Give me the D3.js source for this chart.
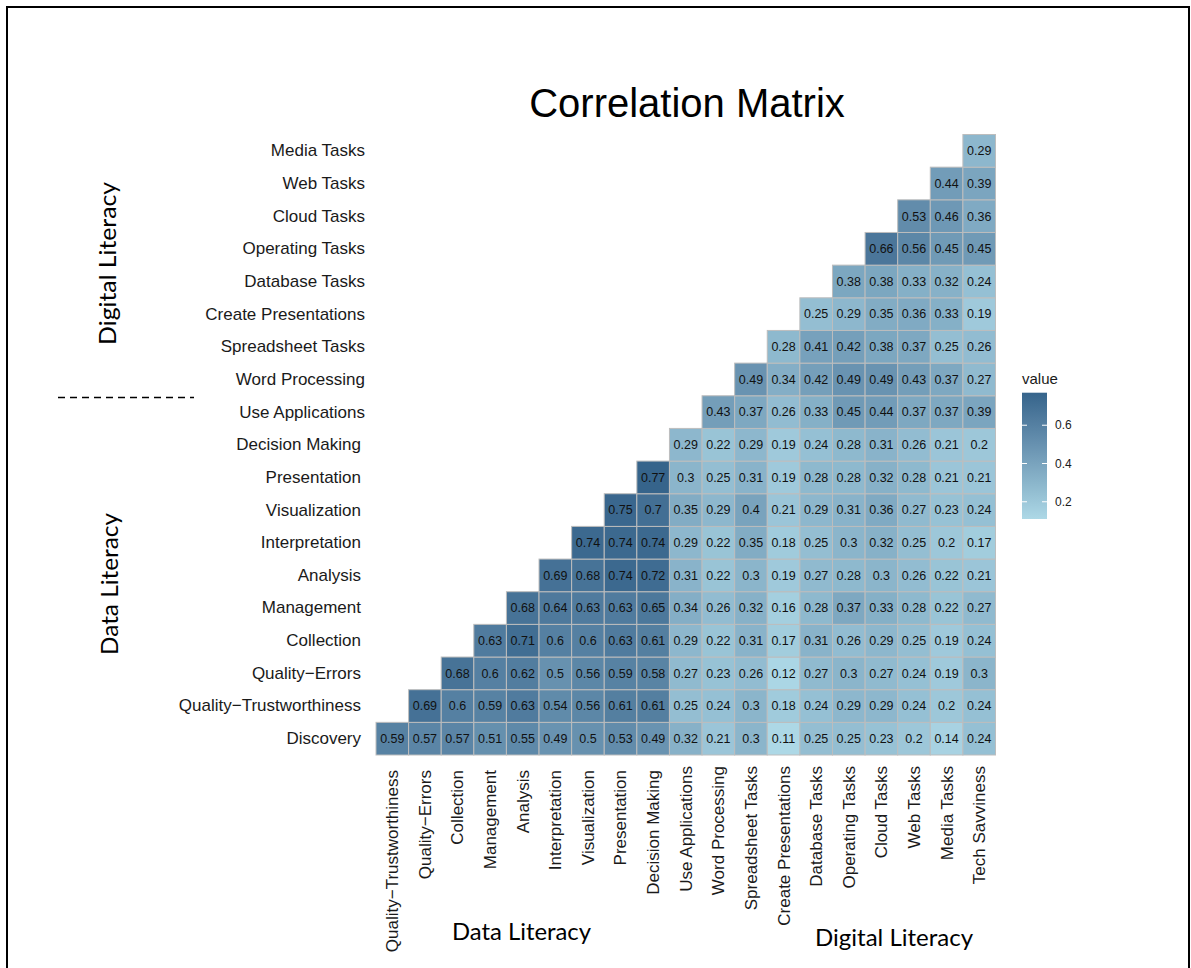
<!DOCTYPE html>
<html>
<head>
<meta charset="utf-8">
<script src="https://cdn.jsdelivr.net/npm/d3@7"></script>
<style>
    body { margin: 0; background: #fff; }
</style>
</head>
<body>
<svg id="chart"></svg>
<script>
// rows bottom -> top, columns left -> right
const rowLabels = ["Discovery", "Quality\u2212Trustworthiness", "Quality\u2212Errors", "Collection", "Management",
    "Analysis", "Interpretation", "Visualization", "Presentation", "Decision Making", "Use Applications",
    "Word Processing", "Spreadsheet Tasks", "Create Presentations", "Database Tasks", "Operating Tasks",
    "Cloud Tasks", "Web Tasks", "Media Tasks"]

const colLabels = ["Quality\u2212Trustworthiness", "Quality\u2212Errors", "Collection", "Management", "Analysis",
    "Interpretation", "Visualization", "Presentation", "Decision Making", "Use Applications", "Word Processing",
    "Spreadsheet Tasks", "Create Presentations", "Database Tasks", "Operating Tasks", "Cloud Tasks",
    "Web Tasks", "Media Tasks", "Tech Savviness"]

const digitalItems = ["Use Applications", "Word Processing", "Spreadsheet Tasks", "Create Presentations",
    "Database Tasks", "Operating Tasks", "Cloud Tasks", "Web Tasks", "Media Tasks", "Tech Savviness"]

// each row starts on the diagonal
const discovery      = [0.59, 0.57, 0.57, 0.51, 0.55, 0.49, 0.5, 0.53, 0.49, 0.32, 0.21, 0.3, 0.11, 0.25, 0.25, 0.23, 0.2, 0.14, 0.24]
const qualityTrust   = [0.69, 0.6, 0.59, 0.63, 0.54, 0.56, 0.61, 0.61, 0.25, 0.24, 0.3, 0.18, 0.24, 0.29, 0.29, 0.24, 0.2, 0.24]
const qualityErrors  = [0.68, 0.6, 0.62, 0.5, 0.56, 0.59, 0.58, 0.27, 0.23, 0.26, 0.12, 0.27, 0.3, 0.27, 0.24, 0.19, 0.3]
const collection     = [0.63, 0.71, 0.6, 0.6, 0.63, 0.61, 0.29, 0.22, 0.31, 0.17, 0.31, 0.26, 0.29, 0.25, 0.19, 0.24]
const management     = [0.68, 0.64, 0.63, 0.63, 0.65, 0.34, 0.26, 0.32, 0.16, 0.28, 0.37, 0.33, 0.28, 0.22, 0.27]
const analysis       = [0.69, 0.68, 0.74, 0.72, 0.31, 0.22, 0.3, 0.19, 0.27, 0.28, 0.3, 0.26, 0.22, 0.21]
const interpretation = [0.74, 0.74, 0.74, 0.29, 0.22, 0.35, 0.18, 0.25, 0.3, 0.32, 0.25, 0.2, 0.17]
const visualization  = [0.75, 0.7, 0.35, 0.29, 0.4, 0.21, 0.29, 0.31, 0.36, 0.27, 0.23, 0.24]
const presentation   = [0.77, 0.3, 0.25, 0.31, 0.19, 0.28, 0.28, 0.32, 0.28, 0.21, 0.21]
const decisionMaking = [0.29, 0.22, 0.29, 0.19, 0.24, 0.28, 0.31, 0.26, 0.21, 0.2]
const useApps        = [0.43, 0.37, 0.26, 0.33, 0.45, 0.44, 0.37, 0.37, 0.39]
const wordProcessing = [0.49, 0.34, 0.42, 0.49, 0.49, 0.43, 0.37, 0.27]
const spreadsheet    = [0.28, 0.41, 0.42, 0.38, 0.37, 0.25, 0.26]
const createPres     = [0.25, 0.29, 0.35, 0.36, 0.33, 0.19]
const databaseTasks  = [0.38, 0.38, 0.33, 0.32, 0.24]
const operatingTasks = [0.66, 0.56, 0.45, 0.45]
const cloudTasks     = [0.53, 0.46, 0.36]
const webTasks       = [0.44, 0.39]
const mediaTasks     = [0.29]

const legendTicks = [0.2, 0.4, 0.6]

const rows = [discovery, qualityTrust, qualityErrors, collection, management, analysis, interpretation,
    visualization, presentation, decisionMaking, useApps, wordProcessing, spreadsheet, createPres,
    databaseTasks, operatingTasks, cloudTasks, webTasks, mediaTasks]

const cells = rows.flatMap((vals, r) => vals.map((v, k) => ({
    row: rowLabels[r], col: colLabels[r + k], value: v
})))

const W = 1191, H = 968
const svg = d3.select("#chart").attr("width", W).attr("height", H)

svg.append("rect")
    .attr("x", 7).attr("y", 7)
    .attr("width", 1182).attr("height", 1000)
    .attr("fill", "none").attr("stroke", "#000").attr("stroke-width", 2)

const x = d3.scaleBand().domain(colLabels).range([376, 995.5])
const y = d3.scaleBand().domain(rowLabels).range([755, 134.5])

const extent = d3.extent(cells, d => d.value)
const color = d3.scaleLinear()
    .domain(extent)
    .range(["#add8e6", "#36648b"])
    .interpolate(d3.interpolateLab)

svg.append("text")
    .attr("x", 687).attr("y", 117)
    .attr("text-anchor", "middle")
    .attr("font-family", "Liberation Sans, Arial, sans-serif")
    .attr("font-size", 40)
    .text("Correlation Matrix")

// tiles
const cell = svg.append("g").selectAll("g.cell")
    .data(cells)
    .join("g")
    .attr("class", "cell")
    .attr("transform", d => `translate(${x(d.col)}, ${y(d.row)})`)

cell.append("rect")
    .attr("width", x.bandwidth())
    .attr("height", y.bandwidth())
    .attr("fill", d => color(d.value))
    .attr("stroke", "#bdbdbd")
    .attr("stroke-width", 1)

cell.append("text")
    .attr("x", x.bandwidth() / 2)
    .attr("y", y.bandwidth() / 2)
    .attr("dy", "0.35em")
    .attr("text-anchor", "middle")
    .attr("font-family", "Liberation Sans, Arial, sans-serif")
    .attr("font-size", 12.5)
    .attr("fill", "#111")
    .text(d => String(d.value))

// axes
const yAxis = svg.append("g")
    .attr("transform", `translate(376, 0)`)
    .call(d3.axisLeft(y).tickSize(0).tickPadding(15))
yAxis.select(".domain").remove()
yAxis.selectAll("text")
    .attr("font-family", "Liberation Sans, Arial, sans-serif")
    .attr("font-size", 17)
    .attr("fill", "#1a1a1a")
    .attr("dx", d => digitalItems.includes(d) ? 4 : 0)

const xAxis = svg.append("g")
    .attr("transform", `translate(0, 755)`)
    .call(d3.axisBottom(x).tickSize(0))
xAxis.select(".domain").remove()
xAxis.selectAll("text")
    .attr("transform", "rotate(-90)")
    .attr("x", d => digitalItems.includes(d) ? -11 : -15)
    .attr("y", 0)
    .attr("dy", "0.35em")
    .style("text-anchor", "end")
    .attr("font-family", "Liberation Sans, Arial, sans-serif")
    .attr("font-size", 17)
    .attr("fill", "#1a1a1a")

// legend
const legendY = d3.scaleLinear().domain(extent).range([519, 392.7])
const grad = svg.append("defs").append("linearGradient")
    .attr("id", "grad")
    .attr("x1", 0).attr("y1", 1).attr("x2", 0).attr("y2", 0)
grad.selectAll("stop")
    .data(d3.range(0, 1.01, 0.1))
    .join("stop")
    .attr("offset", t => t)
    .attr("stop-color", t => color(extent[0] + t * (extent[1] - extent[0])))

svg.append("text")
    .attr("x", 1022).attr("y", 384)
    .attr("font-family", "Liberation Sans, Arial, sans-serif")
    .attr("font-size", 15)
    .attr("fill", "#1a1a1a")
    .text("value")

svg.append("rect")
    .attr("x", 1022).attr("y", legendY(extent[1]))
    .attr("width", 25).attr("height", legendY(extent[0]) - legendY(extent[1]))
    .attr("fill", "url(#grad)")

const lt = svg.append("g").selectAll("g")
    .data(legendTicks)
    .join("g")
    .attr("transform", d => `translate(0, ${legendY(d)})`)
lt.append("line").attr("x1", 1022).attr("x2", 1027).attr("stroke", "#fff")
lt.append("line").attr("x1", 1042).attr("x2", 1047).attr("stroke", "#fff")
lt.append("text")
    .attr("x", 1055).attr("dy", "0.35em")
    .attr("font-family", "Liberation Sans, Arial, sans-serif")
    .attr("font-size", 12)
    .attr("fill", "#1a1a1a")
    .text(d => d)

// group annotations
const annotate = (label, tx, ty, rot, len) => svg.append("text")
    .attr("transform", `translate(${tx}, ${ty}) rotate(${rot})`)
    .attr("text-anchor", "middle")
    .attr("font-family", "Lato, Open Sans, sans-serif")
    .attr("font-size", 24)
    .attr("textLength", len)
    .attr("lengthAdjust", "spacingAndGlyphs")
    .text(label)

annotate("Digital Literacy", 115.7, 263.4, -90, 163)
annotate("Data Literacy", 118.3, 584, -90, 142)
annotate("Data Literacy", 521.5, 940, 0, 139)
annotate("Digital Literacy", 894, 946, 0, 158)

svg.append("line")
    .attr("x1", 58).attr("x2", 194)
    .attr("y1", 397.5).attr("y2", 397.5)
    .attr("stroke", "#000")
    .attr("stroke-width", 1.5)
    .attr("stroke-dasharray", "7,5")
</script>
</body>
</html>
